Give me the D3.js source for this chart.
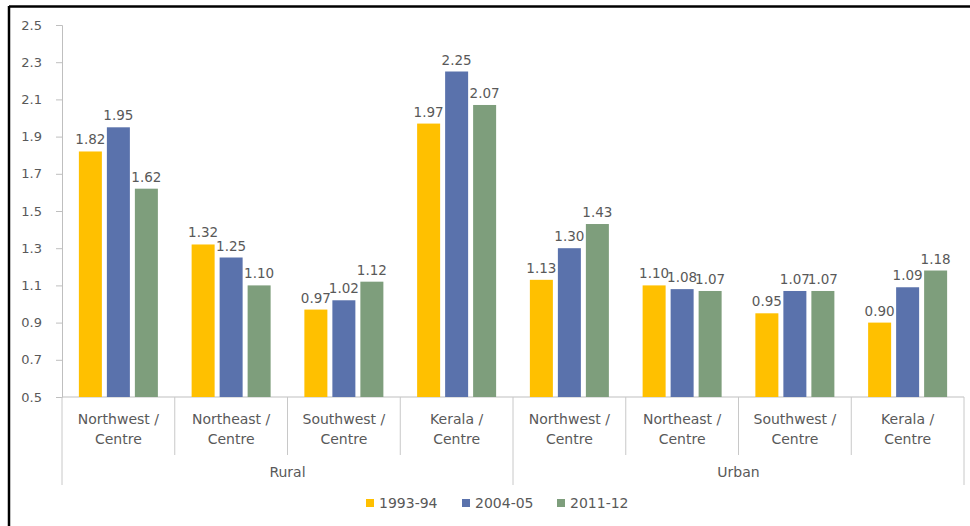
<!DOCTYPE html>
<html>
<head>
<meta charset="utf-8">
<script src="https://cdn.jsdelivr.net/npm/d3@7"></script>
<style>
  body { margin: 0; background: #fff; }
  svg { display: block; }
  text { font-family: "DejaVu Sans", sans-serif; fill: #595959; }
</style>
</head>
<body>
<div id="chart"></div>
<script>
// Chart data
const areas = ["Rural", "Urban"];
const regions = ["Northwest / Centre", "Northeast / Centre", "Southwest / Centre", "Kerala / Centre"];
const seriesNames = ["1993-94", "2004-05", "2011-12"];
const colors = ["#ffc000", "#5a72ac", "#7e9e7c"];

const rural1993 = [1.82, 1.32, 0.97, 1.97];
const rural2004 = [1.95, 1.25, 1.02, 2.25];
const rural2011 = [1.62, 1.10, 1.12, 2.07];
const urban1993 = [1.13, 1.10, 0.95, 0.90];
const urban2004 = [1.30, 1.08, 1.07, 1.09];
const urban2011 = [1.43, 1.07, 1.07, 1.18];

const yTicks = [0.5, 0.7, 0.9, 1.1, 1.3, 1.5, 1.7, 1.9, 2.1, 2.3, 2.5];

// Setup
const svgWidth = 970;
const svgHeight = 526;
const plotLeft = 62, plotRight = 964, plotTop = 25, plotBottom = 397;

const svg = d3.select("#chart")
    .append("svg")
    .attr("width", svgWidth)
    .attr("height", svgHeight);

// black frame of the cropped figure
svg.append("line").attr("x1", 9).attr("x2", 9).attr("y1", 6).attr("y2", svgHeight)
    .attr("stroke", "#000").attr("stroke-width", 2.5);
svg.append("line").attr("x1", 9).attr("x2", svgWidth).attr("y1", 6.5).attr("y2", 6.5)
    .attr("stroke", "#000").attr("stroke-width", 2.5);

// build the rows: one per category
const rows = [];
const bySeries = {
  Rural: [rural1993, rural2004, rural2011],
  Urban: [urban1993, urban2004, urban2011]
};
areas.forEach(a => {
  regions.forEach((r, i) => {
    rows.push({
      key: a + "|" + r,
      area: a,
      region: r,
      values: seriesNames.map((s, j) => ({ series: s, value: bySeries[a][j][i] }))
    });
  });
});

const x0 = d3.scaleBand()
    .domain(rows.map(d => d.key))
    .range([plotLeft, plotRight])
    .padding(0);

const x1 = d3.scaleBand()
    .domain(seriesNames)
    .range([0, 79])
    .paddingInner(5 / 28)
    .paddingOuter(0);

const color = d3.scaleOrdinal()
    .domain(seriesNames)
    .range(colors);

const y = d3.scaleLinear()
    .domain([0.5, 2.5])
    .range([plotBottom, plotTop]);

// Y axis
const yAxis = d3.axisLeft(y)
    .tickValues(yTicks)
    .tickFormat(d3.format(".1f"))
    .tickSize(6)
    .tickPadding(14);

const yg = svg.append("g")
    .attr("transform", `translate(${plotLeft},0)`)
    .call(yAxis);
yg.select(".domain").attr("stroke", "#bfbfbf");
yg.selectAll(".tick line").attr("stroke", "#bfbfbf");
yg.selectAll(".tick text")
    .attr("font-size", 13)
    .attr("fill", "#595959");

// baseline
svg.append("line")
    .attr("x1", plotLeft).attr("x2", plotRight)
    .attr("y1", plotBottom).attr("y2", plotBottom)
    .attr("stroke", "#bfbfbf");

// Bars
const groups = svg.selectAll(".group")
    .data(rows)
    .enter().append("g")
    .attr("class", "group")
    .attr("transform", d => `translate(${x0(d.key) + (x0.bandwidth() - 79) / 2},0)`);

groups.selectAll("rect")
    .data(d => d.values)
    .enter().append("rect")
    .attr("x", d => x1(d.series))
    .attr("width", x1.bandwidth())
    .attr("y", d => y(d.value))
    .attr("height", d => plotBottom - y(d.value))
    .attr("fill", d => color(d.series));

groups.selectAll(".lbl")
    .data(d => d.values)
    .enter().append("text")
    .attr("class", "lbl")
    .attr("x", d => x1(d.series) + x1.bandwidth() / 2)
    .attr("y", d => y(d.value) - 7)
    .attr("text-anchor", "middle")
    .attr("font-size", 13.5)
    .text(d => d.value.toFixed(2));

// Category axis: separators and two-line labels
const sepColor = "#c8c8c8";
rows.forEach((d, i) => {
  const xl = x0(d.key);
  const long = i % regions.length === 0;
  svg.append("line")
      .attr("x1", xl).attr("x2", xl)
      .attr("y1", plotBottom).attr("y2", long ? 485 : 455)
      .attr("stroke", sepColor);
  const parts = d.region.split(" / ");
  const t = svg.append("text")
      .attr("x", xl + x0.bandwidth() / 2)
      .attr("y", 424)
      .attr("text-anchor", "middle")
      .attr("font-size", 14);
  t.append("tspan").attr("x", xl + x0.bandwidth() / 2).text(parts[0] + " /");
  t.append("tspan").attr("x", xl + x0.bandwidth() / 2).attr("dy", 20).text(parts[1]);
});
svg.append("line")
    .attr("x1", plotRight).attr("x2", plotRight)
    .attr("y1", plotBottom).attr("y2", 485)
    .attr("stroke", sepColor);

// area labels
areas.forEach(a => {
  const keys = rows.filter(d => d.area === a).map(d => d.key);
  const cx = (x0(keys[0]) + x0(keys[keys.length - 1]) + x0.bandwidth()) / 2;
  svg.append("text")
      .attr("x", cx)
      .attr("y", 477)
      .attr("text-anchor", "middle")
      .attr("font-size", 14)
      .text(a);
});

// Legend
const legendX = [366, 462, 557];
const legend = svg.selectAll(".legend")
    .data(seriesNames)
    .enter().append("g")
    .attr("class", "legend")
    .attr("transform", (d, i) => `translate(${legendX[i]},503)`);

legend.append("rect")
    .attr("x", 0).attr("y", -4)
    .attr("width", 8).attr("height", 8)
    .attr("fill", d => color(d));

legend.append("text")
    .attr("x", 13)
    .attr("y", 5)
    .attr("font-size", 14)
    .text(d => d);
</script>
</body>
</html>
